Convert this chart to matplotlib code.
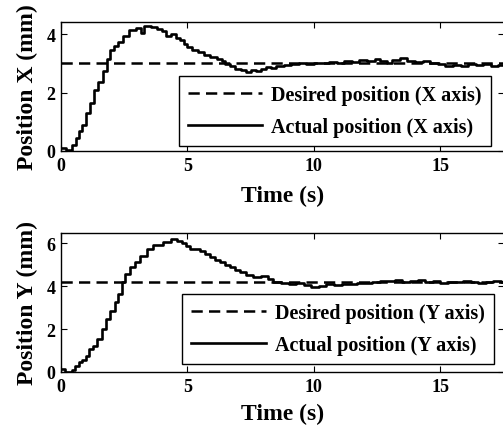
import matplotlib
matplotlib.use("Agg")
import matplotlib.pyplot as plt

# ---- data ----
t_x = [0.0, 0.2, 0.35, 0.45, 0.6, 0.7, 0.85, 1.0, 1.15, 1.3, 1.45, 1.65, 1.8, 1.95,
       2.1, 2.25, 2.45, 2.7, 2.95, 3.15, 3.3, 3.55, 3.8, 4.0, 4.15, 4.35, 4.55, 4.7,
       4.85, 5.0, 5.2, 5.4, 5.65, 5.9, 6.15, 6.35, 6.5, 6.7, 6.9, 7.1, 7.3, 7.5, 7.7,
       7.9, 8.1, 8.3, 8.5, 8.8, 9.1, 9.4, 9.7, 10.0, 10.3, 10.6, 10.9, 11.2, 11.5,
       11.8, 12.1, 12.4, 12.6, 12.9, 13.1, 13.4, 13.7, 14.0, 14.3, 14.6, 14.9, 15.2,
       15.5, 15.8, 16.1, 16.4, 16.7, 17.0, 17.3, 17.6]
x_actual = [0.1, 0.02, 0.0, 0.2, 0.45, 0.7, 0.9, 1.3, 1.65, 2.1, 2.35, 2.75, 3.15, 3.45,
            3.6, 3.75, 3.95, 4.15, 4.22, 4.05, 4.28, 4.24, 4.18, 4.1, 3.95, 4.02, 3.88, 3.8,
            3.65, 3.55, 3.45, 3.38, 3.3, 3.22, 3.15, 3.08, 2.98, 2.9, 2.82, 2.78, 2.72, 2.78, 2.75,
            2.82, 2.88, 2.85, 2.92, 2.95, 2.98, 3.0, 2.97, 3.02, 3.0, 3.05, 3.02, 3.08, 3.05,
            3.12, 3.08, 3.15, 3.1, 3.02, 3.12, 3.18, 3.1, 3.05, 3.08, 3.0, 2.98, 2.92,
            2.95, 2.92, 2.97, 2.93, 2.98, 2.92, 2.95, 2.95]
x_desired = 3.0

t_y = [0.0, 0.15, 0.3, 0.42, 0.55, 0.7, 0.85, 0.98, 1.12, 1.27, 1.41, 1.61, 1.78, 1.94,
       2.13, 2.27, 2.4, 2.53, 2.73, 2.92, 3.12, 3.39, 3.65, 4.04, 4.37, 4.6, 4.77, 4.95,
       5.1, 5.49, 5.7, 5.89, 6.1, 6.28, 6.5, 6.68, 6.9, 7.07, 7.3, 7.6, 7.9, 8.2, 8.4,
       8.7, 9.0, 9.3, 9.6, 9.9, 10.2, 10.5, 10.8, 11.1, 11.4, 11.7, 12.0, 12.3, 12.6,
       12.9, 13.2, 13.5, 13.8, 14.1, 14.4, 14.7, 15.0, 15.3, 15.6, 15.9, 16.2, 16.5,
       16.8, 17.1, 17.4, 17.6]
y_actual = [0.12, 0.02, 0.0, 0.08, 0.28, 0.45, 0.55, 0.75, 1.05, 1.2, 1.53, 2.0, 2.47, 2.85,
            3.24, 3.63, 4.17, 4.56, 4.87, 5.1, 5.41, 5.72, 5.92, 6.03, 6.19, 6.1, 5.99, 5.85,
            5.72, 5.64, 5.5, 5.33, 5.22, 5.1, 4.98, 4.87, 4.75, 4.64, 4.52, 4.42, 4.45, 4.33, 4.2,
            4.12, 4.08, 4.15, 4.05, 3.94, 4.02, 4.09, 4.05, 4.1, 4.08, 4.15, 4.12, 4.2, 4.25,
            4.22, 4.28, 4.2, 4.25, 4.3, 4.18, 4.22, 4.15, 4.2, 4.18, 4.22, 4.2, 4.15,
            4.2, 4.23, 4.18, 4.2]
y_desired = 4.2

x_ticks = [0, 5, 10, 15]
top_yticks = [0, 2, 4]
bot_yticks = [0, 2, 4, 6]

plt.rcParams['font.family'] = ['Liberation Serif', 'DejaVu Serif']
plt.rcParams['font.weight'] = 'bold'

W, H = 503, 435
FS_TICK = 13
FS_LAB = 17
FS_LEG = 14.5
fig = plt.figure(figsize=(W / 100, H / 100), dpi=100)

def px_axes(left, top, right, bottom):
    return fig.add_axes([left / W, 1 - bottom / H, (right - left) / W, (bottom - top) / H])

ax1 = px_axes(61, 23, 504, 152)
ax2 = px_axes(61, 234, 504, 373)

def style(ax, ylim, yticks, desired, t, act, labels, ylabel, leg_anchor, xpad):
    ax.axhline(desired, color='black', lw=1.8, ls=(0, (4.5, 2.5)), label=labels[0])
    ax.plot(t, act, color='black', lw=1.9, drawstyle='steps-post', label=labels[1])
    ax.set_xlim(0, 17.52)
    ax.set_ylim(*ylim)
    ax.set_xticks(x_ticks)
    ax.set_yticks(yticks)
    ax.tick_params(direction='in', length=4, width=0.8, top=True, right=True,
                   labelsize=FS_TICK, pad=4)
    for lab in ax.get_xticklabels() + ax.get_yticklabels():
        lab.set_fontweight('bold')
    for s in ax.spines.values():
        s.set_linewidth(1.0)
    ax.set_xlabel('Time (s)', fontsize=FS_LAB, fontweight='bold', labelpad=xpad)
    ax.set_ylabel(ylabel, fontsize=FS_LAB, fontweight='bold', labelpad=6)
    leg = ax.legend(loc='lower right', bbox_to_anchor=leg_anchor, borderaxespad=0,
                    fancybox=False, framealpha=1, edgecolor='black',
                    handlelength=3.7, handletextpad=0.45, labelspacing=0.6,
                    borderpad=0.45, prop={'family': 'Liberation Serif', 'weight': 'bold', 'size': FS_LEG})
    leg.get_frame().set_linewidth(1.0)

style(ax1, (0, 4.42), top_yticks, x_desired, t_x, x_actual,
      ['Desired position (X axis)', 'Actual position (X axis)'], 'Position X (mm)',
      (0.9706, 0.039), 8)
style(ax2, (0, 6.47), bot_yticks, y_desired, t_y, y_actual,
      ['Desired position (Y axis)', 'Actual position (Y axis)'], 'Position Y (mm)',
      (0.977, 0.058), 6)

fig.savefig('out.png', dpi=100)
